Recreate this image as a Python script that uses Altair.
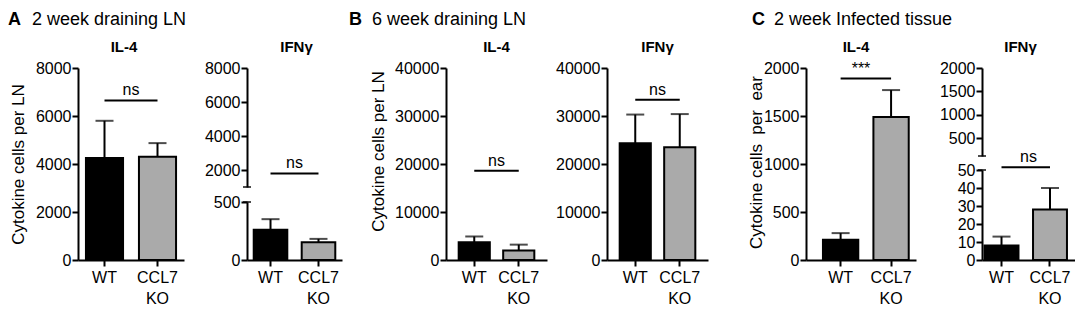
import altair as alt
import pandas as pd

FONT = "Liberation Sans"
GROUPS = ["WT", "CCL7 KO"]
COLORS = ["#000000", "#aaaaaa"]

# ---- values (mean, top of error bar) ----
A_IL4_MEAN = [4250, 4300]
A_IL4_TOP = [5800, 4870]
A_IFN_MEAN = [260, 152]
A_IFN_TOP = [352, 182]
B_IL4_MEAN = [3700, 2000]
B_IL4_TOP = [4900, 3200]
B_IFN_MEAN = [24300, 23500]
B_IFN_TOP = [30300, 30400]
C_IL4_MEAN = [210, 1490]
C_IL4_TOP = [280, 1770]
C_IFN_MEAN = [8, 28]
C_IFN_TOP = [13, 40]

# significance bars: (y value, label)
A_IL4_SIG = (6650, "ns")
A_IFN_SIG = (1800, "ns")
B_IL4_SIG = (18600, "ns")
B_IFN_SIG = (33400, "ns")
C_IL4_SIG = (1890, "***")
C_IFN_SIG = (51.5, "ns")

# axis ticks
A_TICKS = [0, 2000, 4000, 6000, 8000]
A_IFN_UP_TICKS = [2000, 4000, 6000, 8000]
A_IFN_LO_TICKS = [0, 500]
B_TICKS = [0, 10000, 20000, 30000, 40000]
C_TICKS = [0, 500, 1000, 1500, 2000]
C_IFN_UP_TICKS = [500, 1000, 1500, 2000]
C_IFN_LO_TICKS = [0, 10, 20, 30, 40, 50]

PI = 0.3
H = 192


def xenc(field, po, align):
    scale = alt.Scale(domain=GROUPS, paddingInner=PI, paddingOuter=po, align=align)
    axis = alt.Axis(title=None, labelAngle=0, labelFontSize=16, labelColor="black",
                    labelPadding=3, labelBaseline="top", labelLineHeight=21,
                    labelExpr="datum.value == 'CCL7 KO' ? ['CCL7', 'KO'] : datum.value",
                    tickSize=6, tickWidth=2, tickColor="black",
                    domainColor="black", domainWidth=2)
    return alt.X(f"{field}:N", sort=GROUPS, scale=scale, axis=axis)


class Y:
    def __init__(self, domain, ticks, rng=None, title=None, tx=0, ty=0):
        self.domain, self.ticks, self.rng = domain, ticks, rng
        self.title, self.tx, self.ty = title, tx, ty

    def __call__(self, field):
        kw = dict(values=self.ticks, format="d", labelFontSize=16, labelColor="black",
                  labelPadding=1, labelOverlap=False, tickSize=6, tickWidth=2, orient="left",
                  tickColor="black", domainColor="black", domainWidth=2, grid=False)
        if self.title:
            kw.update(title=self.title, titleX=self.tx, titleY=self.ty, titleAngle=-90,
                      titleBaseline="middle", titleAlign="center", titleFontSize=17,
                      titleFontWeight="normal", titleColor="black")
        else:
            kw.update(title=None)
        sk = dict(domain=self.domain, nice=False, zero=False)
        if self.rng is not None:
            sk["range"] = self.rng
        return alt.Y(f"{field}:Q", scale=alt.Scale(**sk), axis=alt.Axis(**kw))


def bar_layers(means, tops, po, align, ye):
    df = pd.DataFrame({"group": GROUPS, "mean": means, "top": tops})
    base = alt.Chart(df)
    xe = xenc("group", po, align)
    bar = base.mark_bar(stroke="black", strokeWidth=2).encode(
        x=xe, y=ye("mean"),
        color=alt.Color("group:N", scale=alt.Scale(domain=GROUPS, range=COLORS), legend=None))
    err = base.mark_rule(color="black", strokeWidth=2).encode(
        x=xe, y=ye("mean"), y2=alt.Y2("top"))
    cap = base.mark_tick(color="black", thickness=2, size=18, orient="horizontal").encode(
        x=xe, y=ye("top"))
    return [bar, err, cap]


def sig_layers(sig, w, po, align, ye):
    val, lab = sig
    df = pd.DataFrame({"x": ["WT"], "x2": ["CCL7 KO"], "y": [val], "lab": [lab]})
    base = alt.Chart(df)
    rule = base.mark_rule(color="black", strokeWidth=2).encode(
        x=xenc("x", po, align), x2=alt.X2("x2"), y=ye("y"))
    txt = base.mark_text(baseline="alphabetic", dy=-5, fontSize=16, color="black").encode(
        x=alt.value(w / 2), y=ye("y"), text="lab:N")
    return [rule, txt]


def break_cap(value, ye):
    return alt.Chart(pd.DataFrame({"y": [value]})).mark_tick(
        color="black", thickness=2, size=8, orient="horizontal").encode(
        x=alt.value(0), y=ye("y"))


def label(text, x, y, size, weight="normal", align="left"):
    return alt.Chart(pd.DataFrame({"t": [text]})).mark_text(
        align=align, baseline="alphabetic", fontSize=size, fontWeight=weight,
        color="black").encode(text="t:N", x=alt.value(x), y=alt.value(y))


def header(letter, text, lx, tx, y=-43):
    return [label(letter, lx, y, 18, "bold"), label(text, tx, y, 18)]


def ptitle(text, w, dx=0):
    return label(text, w / 2 + dx, -16, 15, "bold", "center")


def spacer(w):
    return alt.Chart(pd.DataFrame({"t": [""]})).mark_text(opacity=0).encode(
        x=alt.value(0), y=alt.value(0), text="t:N").properties(width=w, height=H)


# ---------- A ----------
w = 106; po = 0.15; al = 0.5
ye = Y([0, 8000], A_TICKS, None, "Cytokine cells per LN", -60, 96)
a1 = alt.layer(
    *bar_layers(A_IL4_MEAN, A_IL4_TOP, po, al, ye),
    *sig_layers(A_IL4_SIG, w, po, al, ye),
    *header("A", "2 week draining LN", -70, -46),
    ptitle("IL-4", w, -7),
).properties(width=w, height=H)

w = 95; po = 0.14
ye_up = Y([1000, 8000], A_IFN_UP_TICKS, [119, 0])
ye_lo = Y([0, 500], A_IFN_LO_TICKS, [H, 134])
a2 = alt.layer(
    alt.layer(*sig_layers(A_IFN_SIG, w, po, al, ye_up), break_cap(1000, ye_up),
              ptitle("IFNγ", w, 2)),
    alt.layer(*bar_layers(A_IFN_MEAN, A_IFN_TOP, po, al, ye_lo), break_cap(500, ye_lo)),
).resolve_scale(y="independent").properties(width=w, height=H)

# ---------- B ----------
w = 101; po = 0.285
ye = Y([0, 40000], B_TICKS, None, "Cytokine cells per LN", -68, 83)
b1 = alt.layer(
    *bar_layers(B_IL4_MEAN, B_IL4_TOP, po, al, ye),
    *sig_layers(B_IL4_SIG, w, po, al, ye),
    *header("B", "6 week draining LN", -97, -74),
    ptitle("IL-4", w),
).properties(width=w, height=H)
ye = Y([0, 40000], B_TICKS)
b2 = alt.layer(
    *bar_layers(B_IFN_MEAN, B_IFN_TOP, po, al, ye),
    *sig_layers(B_IFN_SIG, w, po, al, ye),
    ptitle("IFNγ", w),
).properties(width=w, height=H)

# ---------- C ----------
w = 110; po = 0.24; al = 0.7
ye = Y([0, 2000], C_TICKS, None, "Cytokine cells\u00a0 per\u00a0 ear", -50, 94)
c1 = alt.layer(
    *bar_layers(C_IL4_MEAN, C_IL4_TOP, po, al, ye),
    *sig_layers(C_IL4_SIG, w, po, al, ye),
    *header("C", "2 week Infected tissue", -54, -32),
    ptitle("IL-4", w, -5),
).properties(width=w, height=H)

w = 93; po = 0.109; al = 0.24
ye_up = Y([120, 2000], C_IFN_UP_TICKS, [88, 0])
ye_lo = Y([0, 50], C_IFN_LO_TICKS, [H, 102])
c2 = alt.layer(
    alt.layer(break_cap(120, ye_up), ptitle("IFNγ", w, -8)),
    alt.layer(*bar_layers(C_IFN_MEAN, C_IFN_TOP, po, al, ye_lo),
              *sig_layers(C_IFN_SIG, w, po, al, ye_lo), break_cap(50, ye_lo)),
).resolve_scale(y="independent").properties(width=w, height=H)

chart = (
    alt.hconcat(a1, spacer(63), a2, spacer(104), b1, spacer(60), b2, spacer(98),
                c1, spacer(66), c2, spacing=0, bounds="flush")
    .properties(padding={"top": 3, "left": 0, "right": 0, "bottom": 0},
                background="white")
    .configure(font=FONT)
    .configure_view(stroke=None)
)

chart.save("out.html", embed_options={"renderer": "svg", "actions": False})
